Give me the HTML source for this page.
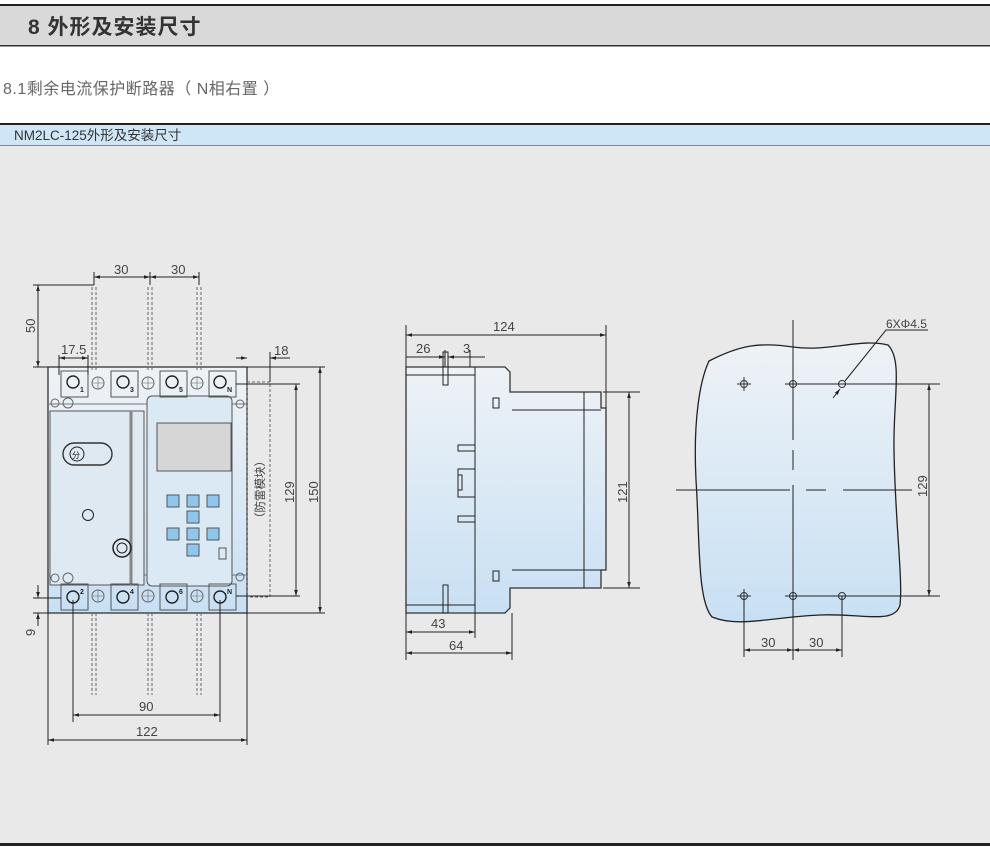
<!DOCTYPE html>
<html><head><meta charset="utf-8"><style>
html,body{margin:0;padding:0;width:990px;height:853px;background:#fff;overflow:hidden}
svg{display:block}
text{font-family:"Liberation Sans","Noto Sans CJK SC",sans-serif}
</style></head><body>
<svg width="990" height="853" viewBox="0 0 990 853" xmlns="http://www.w3.org/2000/svg">
<defs>
<linearGradient id="g" x1="0" y1="0" x2="0" y2="1"><stop offset="0" stop-color="#eef2f6"/><stop offset="1" stop-color="#c8e0f4"/></linearGradient>
<marker id="a" viewBox="0 0 10 10" refX="10" refY="5" markerWidth="9" markerHeight="6" orient="auto-start-reverse"><path d="M0,2L10,5L0,8z" fill="#222"/></marker>
</defs>
<rect x="0" y="5" width="990" height="41" fill="#d9d9d9"/>
<rect x="0" y="4" width="990" height="2" fill="#222"/>
<rect x="0" y="45" width="990" height="1.5" fill="#333"/>
<text x="28" y="34" font-size="21" font-weight="bold" fill="#333" letter-spacing="1">8 外形及安装尺寸</text>
<text x="3" y="94" font-size="16" fill="#666" letter-spacing="0.5">8.1剩余电流保护断路器（ N相右置 ）</text>
<rect x="0" y="124" width="990" height="22" fill="#cfe6f7"/>
<rect x="0" y="123" width="990" height="2" fill="#222"/>
<rect x="0" y="146" width="990" height="698" fill="#e9e9e9"/>
<rect x="0" y="145" width="990" height="1" fill="#888"/>
<text x="14" y="140" font-size="13.5" fill="#333">NM2LC-125外形及安装尺寸</text>
<rect x="0" y="843" width="990" height="3" fill="#222"/>

<g fill="none" stroke="#222" stroke-width="1">
<rect x="48" y="367" width="199" height="246" fill="url(#g)" stroke="#333" stroke-width="1.3"/>
<line x1="48" y1="404" x2="247" y2="404" stroke="#777"/>
<line x1="48" y1="575" x2="247" y2="575" stroke="#777"/>
<rect x="50" y="411" width="94" height="174" fill="#dfe9f2" stroke="#555"/>
<line x1="131" y1="411" x2="131" y2="585" stroke="#888" stroke-width="3"/>
<rect x="147" y="396" width="85" height="190" rx="5" fill="#dbe9f5" stroke="#555"/>
<rect x="157" y="423" width="74" height="48" fill="#d6d6d6" stroke="#555"/>
<g fill="#8ec6ec" stroke="#555">
<rect x="167" y="495" width="12" height="12"/><rect x="187" y="495" width="12" height="12"/><rect x="207" y="495" width="12" height="12"/>
<rect x="187" y="511" width="12" height="12"/>
<rect x="167" y="528" width="12" height="12"/><rect x="187" y="528" width="12" height="12"/><rect x="207" y="528" width="12" height="12"/>
<rect x="187" y="544" width="12" height="12"/>
</g>
<rect x="219" y="548" width="7" height="11" stroke="#555"/>
<rect x="63" y="443" width="49" height="22" rx="11" stroke="#333" stroke-width="1.4"/>
<circle cx="77" cy="454" r="7"/><text x="72" y="458" font-size="8" fill="#222" stroke="none">分</text>
<circle cx="88" cy="515" r="5.5"/>
<circle cx="122" cy="548" r="9" stroke-width="1.5"/><circle cx="122" cy="548" r="5"/>
<g stroke="#555">
<rect x="61" y="371" width="27" height="26"/><rect x="111" y="371" width="27" height="26"/><rect x="160" y="371" width="27" height="26"/><rect x="209" y="371" width="27" height="26"/>
<rect x="61" y="584" width="27" height="26"/><rect x="111" y="584" width="27" height="26"/><rect x="160" y="584" width="27" height="26"/><rect x="209" y="584" width="27" height="26"/>
</g>
<g stroke-width="1.4">
<circle cx="73" cy="382" r="6"/><circle cx="123" cy="382" r="6"/><circle cx="172" cy="382" r="6"/><circle cx="220" cy="382" r="6"/>
<circle cx="73" cy="597" r="6"/><circle cx="123" cy="597" r="6"/><circle cx="172" cy="597" r="6"/><circle cx="220" cy="597" r="6"/>
</g>
<g stroke="#666">
<circle cx="98" cy="383" r="6"/><circle cx="148" cy="383" r="6"/><circle cx="197" cy="383" r="6"/>
<circle cx="98" cy="596" r="6"/><circle cx="148" cy="596" r="6"/><circle cx="197" cy="596" r="6"/>
<path d="M92,383H104M98,377V389M142,383H154M148,377V389M191,383H203M197,377V389M92,596H104M98,590V602M142,596H154M148,590V602M191,596H203M197,590V602" stroke-width="0.6"/>
<circle cx="55" cy="403" r="4"/><circle cx="68" cy="403" r="5"/><circle cx="240" cy="404" r="4"/>
<circle cx="55" cy="578" r="4"/><circle cx="68" cy="578" r="5"/><circle cx="240" cy="577" r="4"/>
</g>
<g font-size="7" fill="#222" stroke="none" font-weight="bold">
<text x="80" y="392">1</text><text x="130" y="392">3</text><text x="179" y="392">5</text><text x="227" y="392">N</text>
<text x="80" y="594">2</text><text x="130" y="594">4</text><text x="179" y="594">6</text><text x="227" y="594">N</text>
</g>
<g stroke="#666" stroke-dasharray="3,2">
<path d="M92,370V285M96,370V285M148,370V285M152,370V285M197,370V285M201,370V285"/>
<path d="M92,613V695M96,613V695M148,613V695M152,613V695M197,613V695M201,613V695"/>
<rect x="247" y="382" width="23" height="215"/>
</g>
<path d="M94,272V285M150,272V285M199,272V285"/>
<line x1="94" y1="277" x2="150" y2="277" marker-start="url(#a)" marker-end="url(#a)"/>
<line x1="150" y1="277" x2="199" y2="277" marker-start="url(#a)" marker-end="url(#a)"/>
<path d="M33,285H94M33,367H48"/>
<line x1="38" y1="285" x2="38" y2="367" marker-start="url(#a)" marker-end="url(#a)"/>
<path d="M59,355V375M88,355V375"/>
<line x1="59" y1="358" x2="88" y2="358" marker-start="url(#a)" marker-end="url(#a)"/>
<path d="M270,352V382"/>
<line x1="236" y1="358" x2="247" y2="358" marker-end="url(#a)"/>
<line x1="282" y1="358" x2="270" y2="358" marker-end="url(#a)"/>
<line x1="270" y1="358" x2="290" y2="358"/>
<path d="M247,367H325M236,384H300M236,596H300M247,613H325"/>
<line x1="296" y1="384" x2="296" y2="596" marker-start="url(#a)" marker-end="url(#a)"/>
<line x1="320" y1="367" x2="320" y2="613" marker-start="url(#a)" marker-end="url(#a)"/>
<path d="M33,598H61M33,613H48"/>
<line x1="38" y1="585" x2="38" y2="598" marker-end="url(#a)"/>
<line x1="38" y1="626" x2="38" y2="613" marker-end="url(#a)"/>
<path d="M73,600V722M220,600V722M48,613V745M247,613V745"/>
<line x1="73" y1="715" x2="220" y2="715" marker-start="url(#a)" marker-end="url(#a)"/>
<line x1="48" y1="740" x2="247" y2="740" marker-start="url(#a)" marker-end="url(#a)"/>

<path d="M406,367H505L510,372V392H601V408H606V570H601V588H510V608L505,613H406Z" fill="url(#g)" stroke="#333" stroke-width="1.3"/>
<path d="M475,367V613M406,375H475M406,605H475M512,410H601M512,570H601M584,392V588"/>
<rect x="443" y="352" width="5" height="33"/><rect x="443" y="585" width="5" height="28"/>
<path d="M475,445H458V451H475M475,516H458V522H475M475,469H458V497H475M458,475H462V490H458"/>
<rect x="493" y="398" width="6" height="10"/><rect x="493" y="571" width="6" height="10"/>
<path d="M406,325V367M606,325V408M445,350V367M470,350V367"/>
<line x1="406" y1="335" x2="606" y2="335" marker-start="url(#a)" marker-end="url(#a)"/>
<line x1="406" y1="357" x2="445" y2="357" marker-end="url(#a)"/>
<line x1="485" y1="357" x2="448" y2="357" marker-end="url(#a)"/>
<path d="M603,392H640M603,588H640"/>
<line x1="629" y1="392" x2="629" y2="588" marker-start="url(#a)" marker-end="url(#a)"/>
<path d="M406,613V660M475,613V638M512,613V660"/>
<line x1="406" y1="632" x2="475" y2="632" marker-start="url(#a)" marker-end="url(#a)"/>
<line x1="406" y1="653" x2="512" y2="653" marker-start="url(#a)" marker-end="url(#a)"/>

<path d="M709,361C740,345 760,342 793,347C830,352 860,338 888,345C903,360 893,400 894,450C895,520 903,580 900,605C895,625 860,613 820,615C770,617 740,628 712,617C697,600 700,540 696,480C693,420 700,380 709,361Z" fill="url(#g)" stroke="#222" stroke-width="1.3"/>
<g stroke="#333">
<circle cx="744" cy="384" r="3.5"/><circle cx="793" cy="384" r="3.5"/><circle cx="842" cy="384" r="3.5"/>
<circle cx="744" cy="596" r="3.5"/><circle cx="793" cy="596" r="3.5"/><circle cx="842" cy="596" r="3.5"/>
<path d="M737,384H751M744,377V391M737,596H751M744,589V603"/>
</g>
<path d="M793,320V440M793,450V470M793,485V660M676,490H790M806,490H826M843,490H912"/>
<path d="M785,384H940M785,596H940"/>
<line x1="929" y1="384" x2="929" y2="596" marker-start="url(#a)" marker-end="url(#a)"/>
<path d="M744,596V657M842,596V657"/>
<line x1="744" y1="650" x2="793" y2="650" marker-start="url(#a)" marker-end="url(#a)"/>
<line x1="793" y1="650" x2="842" y2="650" marker-start="url(#a)" marker-end="url(#a)"/>
<path d="M928,330H886L845,381"/>
<line x1="833" y1="398" x2="840" y2="389" marker-end="url(#a)"/>
</g>
<g font-size="13" fill="#444">
<text x="114" y="274">30</text><text x="171" y="274">30</text>
<text x="35" y="333" transform="rotate(-90 35 333)">50</text>
<text x="61" y="354">17.5</text><text x="274" y="355">18</text>
<text x="294" y="503" transform="rotate(-90 294 503)">129</text>
<text x="318" y="503" transform="rotate(-90 318 503)">150</text>
<text x="264" y="524" transform="rotate(-90 264 524)" font-size="11.5">（防雷模块）</text>
<text x="35" y="636" transform="rotate(-90 35 636)">9</text>
<text x="139" y="711">90</text><text x="136" y="736">122</text>
<text x="493" y="331">124</text><text x="416" y="353">26</text><text x="463" y="353">3</text>
<text x="627" y="503" transform="rotate(-90 627 503)">121</text>
<text x="431" y="628">43</text><text x="449" y="650">64</text>
<text x="927" y="497" transform="rotate(-90 927 497)">129</text>
<text x="761" y="647">30</text><text x="809" y="647">30</text>
<text x="886" y="328" font-size="12">6XΦ4.5</text>
</g>
</svg>
</body></html>
